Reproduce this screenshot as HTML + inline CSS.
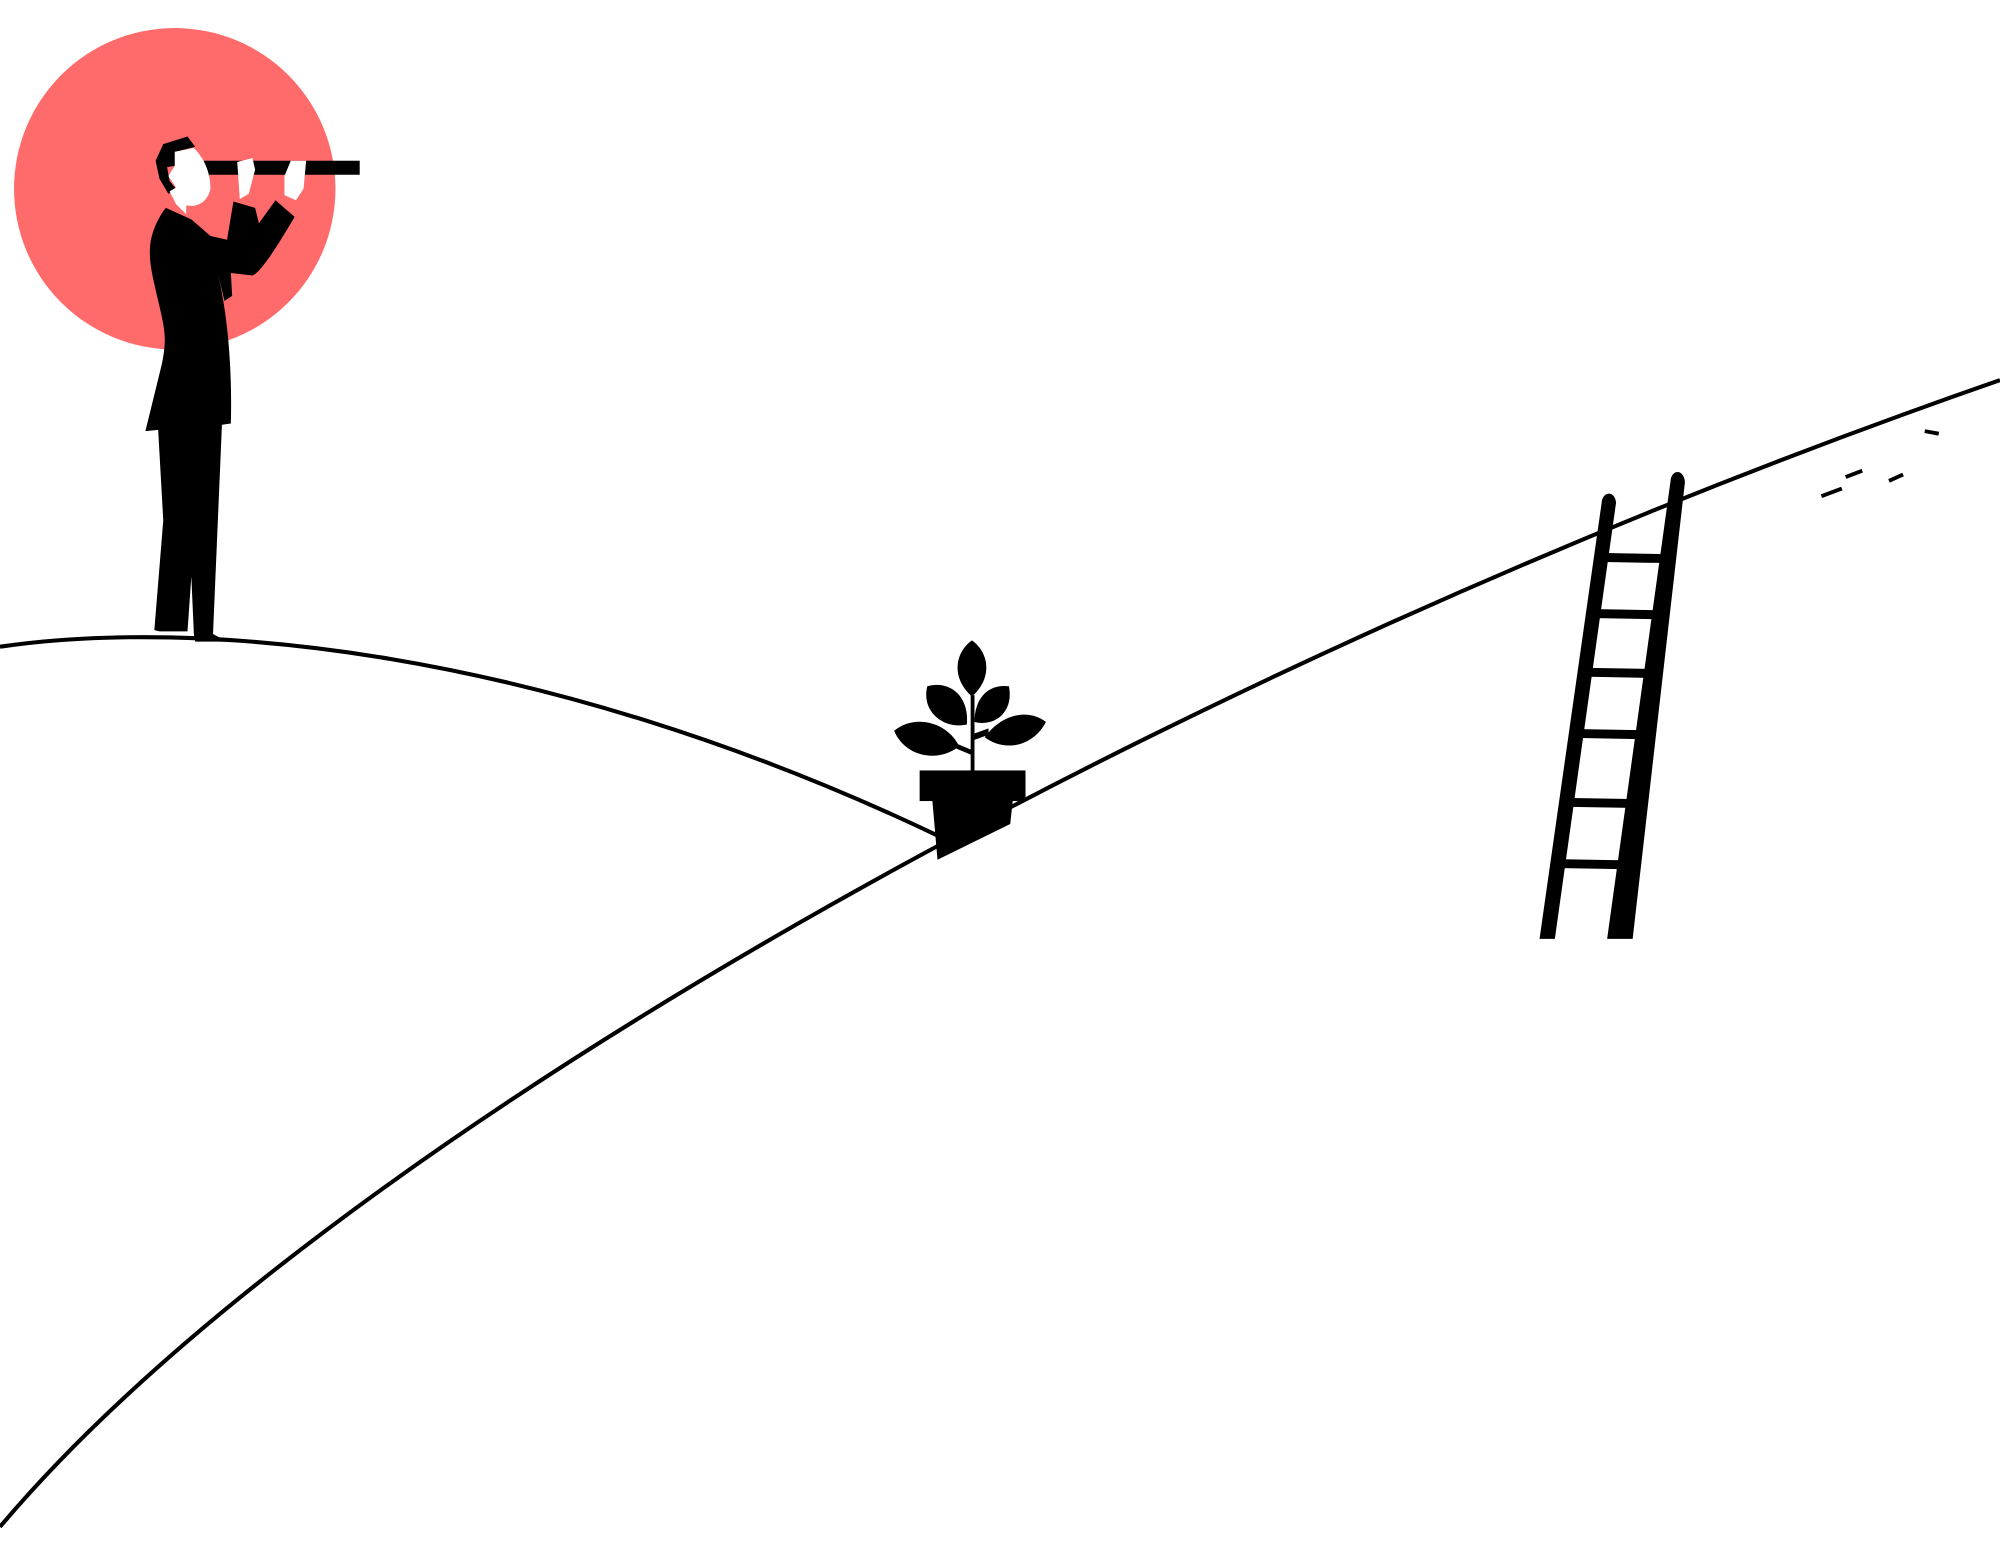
<!DOCTYPE html>
<html><head><meta charset="utf-8"><style>
html,body{margin:0;padding:0;background:#fff;}
svg{display:block;}
</style></head><body>
<svg width="2000" height="1553" viewBox="0 0 1568 1217.5" xmlns="http://www.w3.org/2000/svg" preserveAspectRatio="none">
<rect width="1568" height="1218" fill="#fff"/>
<circle cx="137" cy="148" r="126" fill="#FF6B6B"/>
<!-- hills -->
<path d="M0,507 C150,485 420,505 735,655" fill="none" stroke="#000" stroke-width="3.2"/>
<path d="M0,1197 C250,900 900,530 1568,298" fill="none" stroke="#000" stroke-width="3.2"/>
<!-- man -->
<g fill="#000">
<path d="M130,163 L150,172 L165,185 L178,188 L183,158 L200,163 L203,175 L216,157 L231,170 C218,192 205,213 198,216 L181,214 L182,232 L176,236 L171,215 C179,250 182,290 181,332 L174,333 L167,497 L178,503 L153,503 L152,497 L150,452 L147,495 L125,495 L121,494 L128,408 L124,337 L114,338 L127,285 C131,265 129,258 125,240 C120,218 116,205 118,190 C120,178 126,168 130,163 Z"/>
<path d="M128,113 L147,107 L153,115 L138,119 L137,130 L131,131 L133,142 L138,148 L132,152 L125,140 L122,126 Z"/>
<rect x="160" y="126" width="122" height="11"/>
</g>
<g fill="#fff">
<path d="M137,119 L152,116 C160,124 165,135 165,148 C163,158 155,163 146,161 L146,168 L138,160 L133,150 L138,147 L132,138 L137,130 Z"/>
<path d="M186,127 L198,124 L200,133 L195,152 L188,156 Z"/>
<path d="M228,126 L240,126 L238,148 L232,157 L223,153 L223,138 Z"/>
</g>
<!-- pot & plant -->
<g fill="#000">
<rect x="721" y="604" width="83" height="24"/>
<path d="M731,628 L794,628 L792,646 L735,674 Z"/>
<rect x="761" y="545" width="3" height="60"/>
<path d="M762,502 C776,512 778,532 762,546 C746,532 748,512 762,502 Z"/>
<path d="M727,538 C745,533 760,546 758,568 C740,572 722,558 727,538 Z"/>
<path d="M791,538 C795,558 780,570 764,566 C764,547 775,536 791,538 Z"/>
<path d="M701,573 C716,560 742,565 752,585 C736,598 710,594 701,573 Z"/>
<path d="M820,566 C810,585 788,590 772,578 C785,560 806,555 820,566 Z"/>
<path d="M750,583 L762,588 L762,592 L750,587 Z"/>
<path d="M764,575 L775,571 L775,576 L764,580 Z"/>
</g>
<!-- ladder -->
<g fill="#000">
<path d="M1256,392 C1258,385 1266,385 1267,394 L1219,736 L1207,736 Z"/>
<path d="M1310,375 C1312,368 1320,368 1321,378 L1280,736 L1260,736 Z"/>
<rect x="1258" y="434" width="48" height="7" transform="rotate(1 1282 437)"/>
<rect x="1252" y="478" width="48" height="7" transform="rotate(1 1276 481)"/>
<rect x="1246" y="524" width="46" height="7" transform="rotate(1 1270 527)"/>
<rect x="1239" y="572" width="46" height="7" transform="rotate(1 1262 575)"/>
<rect x="1232" y="626" width="46" height="7" transform="rotate(1 1256 629)"/>
<rect x="1225" y="674" width="46" height="7" transform="rotate(1 1248 677)"/>
</g>
<!-- dashes upper right -->
<g stroke="#000" stroke-width="3">
<line x1="1428" y1="389" x2="1444" y2="383"/>
<line x1="1447" y1="374" x2="1460" y2="369"/>
<line x1="1481" y1="377" x2="1492" y2="372"/>
<line x1="1509" y1="338" x2="1520" y2="340"/>
</g>
</svg>
</body></html>
